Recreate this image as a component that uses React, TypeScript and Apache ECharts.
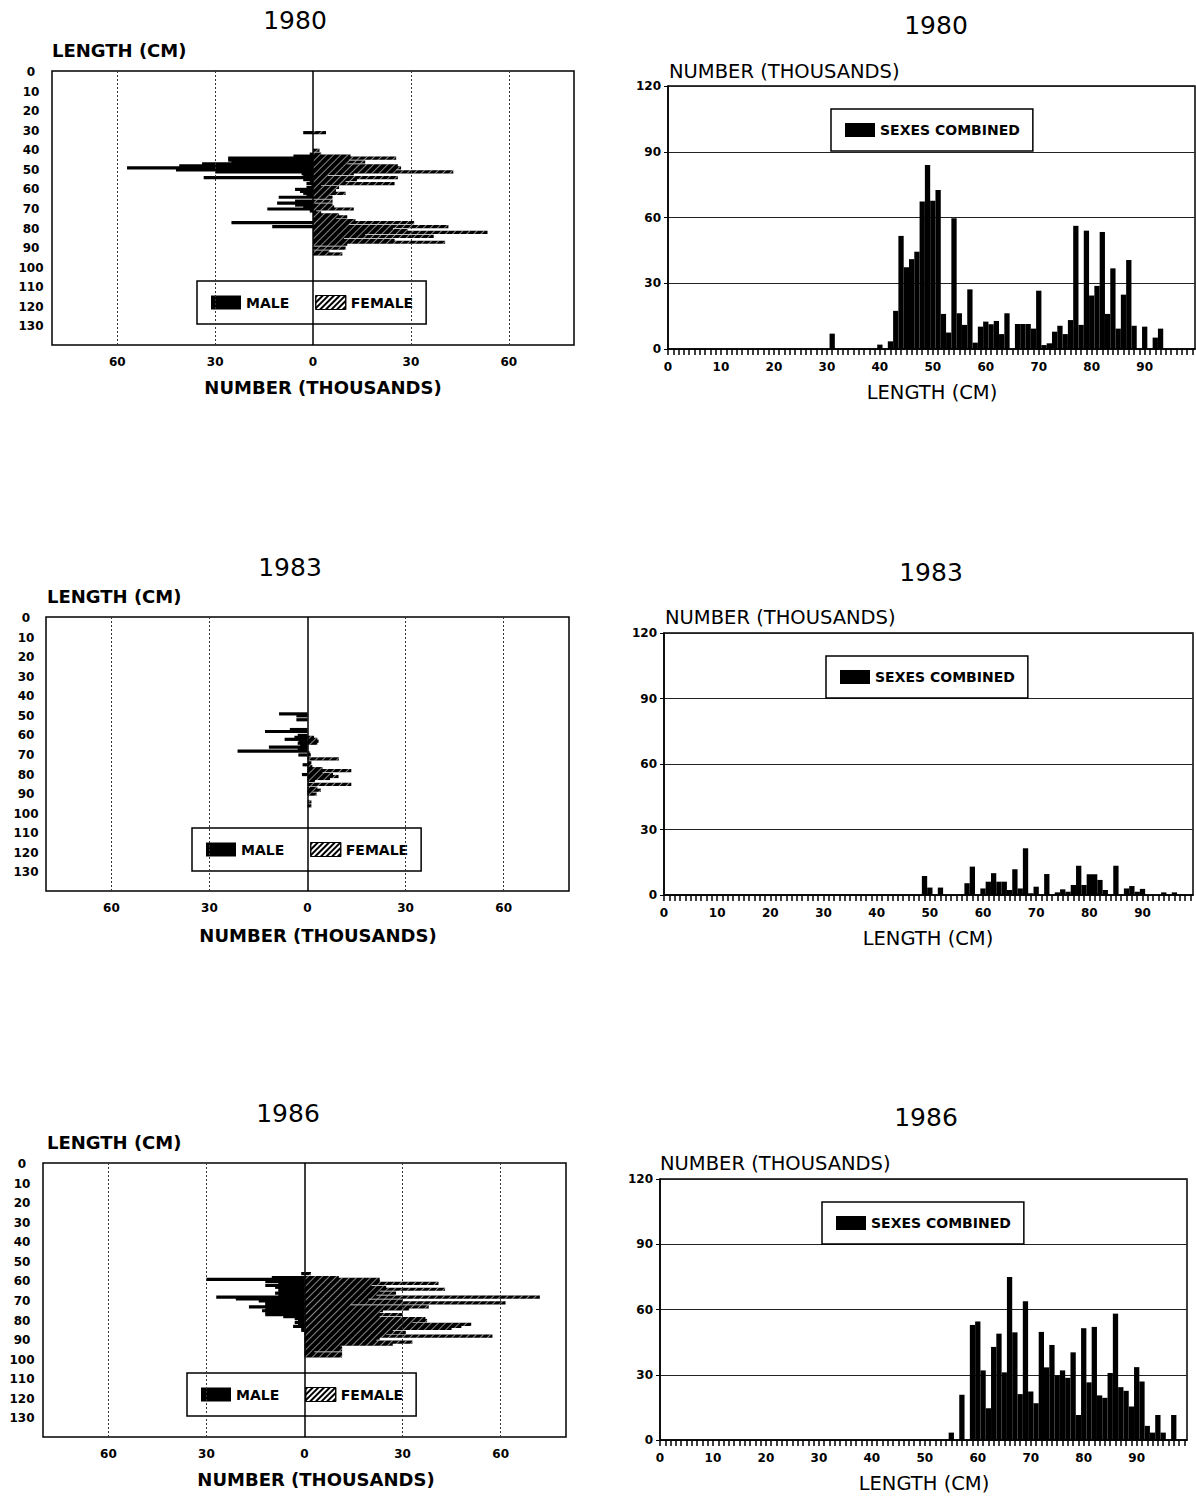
import React, { useEffect, useRef } from "react";
import * as echarts from "echarts";

// ---------- labels ----------
const YEARS = ["1980", "1983", "1986"];
const NUMBER_TICKS = [-60, -30, 0, 30, 60];
const NUMBER_GRIDLINES = [-60, -30, 30, 60];
const LENGTH_SLOTS = 140; // 0..139 cm, labelled 0..130
const HIST_MAX_LENGTH = 99.5;

// ---------- 1980 ----------
const pyr1980Lengths = [31, 40, 42, 43, 44, 45, 46, 47, 48, 49, 50, 51, 52, 53, 54, 55, 56, 57, 58, 59, 60, 61, 62, 63, 64, 66, 67, 68, 69, 70, 71, 72, 73, 74, 75, 76, 77, 78, 79, 80, 81, 82, 83, 84, 85, 86, 87, 88, 90, 92, 93];
const pyr1980Male = [3, 0, 1, 6, 26, 26, 25, 34, 41, 57, 42, 30, 3.5, 3, 33.5, 3, 1, 2, 0.5, 2, 5.5, 4, 3, 2, 10.5, 5.5, 11, 5.5, 3, 14, 1, 0, 0, 0, 0, 0, 25, 0, 12.5, 0, 0, 0, 0, 0, 0, 0, 0, 0, 0, 0, 0];
const pyr1980Female = [4, 2, 2.5, 11.5, 25.5, 11, 16, 10.5, 26, 27, 25.5, 43, 12.5, 4.5, 26, 13.5, 10, 25, 2.5, 8, 7, 7, 10, 5, 6, 6, 0.5, 6, 6.5, 12.5, 1, 2.5, 8, 10.5, 7, 13, 31, 11, 41.5, 24.5, 29, 53.5, 16, 37, 9.5, 25, 40.5, 10.5, 10, 5, 9];
const hist1980Lengths = [31, 40, 42, 43, 44, 45, 46, 47, 48, 49, 50, 51, 52, 53, 54, 55, 56, 57, 58, 59, 60, 61, 62, 63, 64, 66, 67, 68, 69, 70, 71, 72, 73, 74, 75, 76, 77, 78, 79, 80, 81, 82, 83, 84, 85, 86, 87, 88, 90, 92, 93];
const hist1980Values = [7, 2, 3.5, 17.4, 51.6, 37.3, 41, 44.4, 67.3, 84, 67.6, 72.6, 16, 7.5, 59.7, 16.3, 11, 27.2, 2.9, 10.2, 12.5, 11.3, 12.8, 6.8, 16.3, 11.4, 11.4, 11.4, 9.3, 26.6, 1.8, 2.6, 7.9, 10.6, 6.8, 13.2, 56.2, 11, 54, 24.4, 28.8, 53.4, 16, 36.8, 9.3, 24.8, 40.6, 10.6, 10.2, 5.2, 9.3];

// ---------- 1983 ----------
const pyr1983Lengths = [49, 50, 52, 57, 58, 60, 61, 62, 63, 64, 65, 66, 67, 68, 69, 70, 72, 74, 75, 76, 77, 78, 79, 80, 81, 82, 83, 85, 87, 88, 89, 90, 94, 96];
const pyr1983Male = [8.7, 3.4, 3.4, 5.4, 13, 3, 4, 7, 2.7, 3, 2.3, 11.8, 3, 21.4, 0, 2.8, 0, 0, 1.5, 0, 0, 0, 0, 1.7, 0, 0, 0, 0, 0, 0, 0, 0, 0, 0];
const pyr1983Female = [0, 0, 0, 0, 0, 0, 2, 3, 3.4, 3, 0, 0, 0, 0, 0.8, 1, 9.6, 1.2, 1.1, 1.5, 4.6, 13.4, 4.6, 7.8, 9.5, 6.9, 2.3, 13.4, 3, 4.1, 1.5, 2.8, 1.2, 1.2];
const hist1983Lengths = [49, 50, 52, 57, 58, 60, 61, 62, 63, 64, 65, 66, 67, 68, 69, 70, 72, 74, 75, 76, 77, 78, 79, 80, 81, 82, 83, 85, 87, 88, 89, 90, 94, 96];
const hist1983Values = [8.7, 3.4, 3.4, 5.4, 13, 3, 6.1, 10, 6.1, 6.1, 2.3, 11.8, 3, 21.4, 0.8, 3.8, 9.6, 1.2, 2.6, 1.5, 4.6, 13.4, 4.6, 9.5, 9.5, 6.9, 2.3, 13.4, 3, 4.1, 1.5, 2.8, 1.2, 1.2];

// ---------- 1986 ----------
const pyr1986Lengths = [56, 58, 59, 60, 61, 62, 63, 64, 65, 66, 67, 68, 69, 70, 71, 72, 73, 74, 75, 76, 77, 78, 79, 80, 81, 82, 83, 84, 85, 86, 87, 88, 89, 90, 91, 92, 93, 94, 95, 96, 97, 98];
const pyr1986Male = [1, 10, 30, 12, 8, 12, 9, 8, 8, 9, 8, 27, 21, 14, 12, 12, 17, 12, 13, 12, 12, 6.5, 3, 2, 3, 2, 3.5, 1, 1, 0, 0, 0, 0, 0, 0, 0, 0, 0, 0, 0, 0, 0];
const pyr1986Female = [2, 10.5, 23, 23, 41, 20.5, 25, 43, 23, 28, 22, 72, 19.5, 30, 61.5, 14, 38, 32, 24, 23, 30, 23, 37, 37.5, 33, 51, 48, 45, 27, 31, 25, 57.5, 23, 22, 33, 27, 11, 11.5, 11.5, 3, 11.5, 11.5];
const hist1986Lengths = [55, 57, 59, 60, 61, 62, 63, 64, 65, 66, 67, 68, 69, 70, 71, 72, 73, 74, 75, 76, 77, 78, 79, 80, 81, 82, 83, 84, 85, 86, 87, 88, 89, 90, 91, 92, 93, 94, 95, 97];
const hist1986Values = [3.4, 20.8, 52.9, 54.5, 32, 14.6, 42.8, 48.9, 31.1, 74.9, 49.5, 21.1, 63.8, 22.3, 16.9, 49.7, 33.4, 43.7, 29.7, 32, 28.6, 40.3, 11.5, 51.4, 26.5, 52, 20.5, 19.4, 30.8, 58.1, 24.3, 22.6, 15.4, 33.5, 26.9, 6.5, 3.4, 11.5, 3.4, 11.5];

const PYRAMIDS = [
  { lengths: pyr1980Lengths, male: pyr1980Male, female: pyr1980Female },
  { lengths: pyr1983Lengths, male: pyr1983Male, female: pyr1983Female },
  { lengths: pyr1986Lengths, male: pyr1986Male, female: pyr1986Female },
];
const HISTS = [
  { lengths: hist1980Lengths, values: hist1980Values },
  { lengths: hist1983Lengths, values: hist1983Values },
  { lengths: hist1986Lengths, values: hist1986Values },
];

// ---------- layout ----------
const LEFT = [
  { title: [295, 20], yname: [52, 50], grid: { left: 52, top: 71, width: 522, height: 274 }, xname: [323, 387], legend: { left: 197, top: 281 }, labelMargin: 21 },
  { title: [290, 567], yname: [47, 596], grid: { left: 46, top: 617, width: 523, height: 274 }, xname: [318, 935], legend: { left: 192, top: 828 }, labelMargin: 20 },
  { title: [288, 1113], yname: [47, 1142], grid: { left: 43, top: 1163, width: 523, height: 274 }, xname: [316, 1479], legend: { left: 187, top: 1373 }, labelMargin: 21 },
];
const RIGHT = [
  { title: [936, 25], yname: [669, 71], grid: { left: 668, top: 86, width: 527, height: 263 }, xname: [932, 392], legend: { left: 831, top: 109 } },
  { title: [931, 572], yname: [665, 617], grid: { left: 664, top: 633, width: 529, height: 262 }, xname: [928, 938], legend: { left: 826, top: 656 } },
  { title: [926, 1117], yname: [660, 1163], grid: { left: 660, top: 1179, width: 527, height: 261 }, xname: [924, 1483], legend: { left: 822, top: 1202 } },
];

const FONT = "DejaVu Sans";

const FEMALE_DECAL = {
  symbol: "rect",
  symbolSize: 1,
  dashArrayX: [1, 0],
  dashArrayY: [1, 4],
  rotation: -Math.PI / 4,
  color: "rgba(255,255,255,0.55)",
};
const FEMALE_LEGEND_DECAL = {
  symbol: "rect",
  symbolSize: 1,
  dashArrayX: [1, 0],
  dashArrayY: [1.5, 2],
  rotation: -Math.PI / 4,
  color: "#000",
};

function fillSlots(lengths: number[], values: number[], sign: number) {
  const arr: (number | null)[] = new Array(LENGTH_SLOTS).fill(null);
  lengths.forEach((l, i) => {
    if (values[i]) arr[l] = sign * values[i];
  });
  return arr;
}

function text(t: string, x: number, y: number, size: number, weight: string, align = "center") {
  return {
    type: "text",
    x,
    y,
    silent: true,
    style: { text: t, fill: "#000", fontSize: size, fontWeight: weight, fontFamily: FONT, align, verticalAlign: "middle" },
  };
}

function buildOption() {
  const grid: any[] = [];
  const xAxis: any[] = [];
  const yAxis: any[] = [];
  const series: any[] = [];
  const legend: any[] = [];
  const graphic: any[] = [];
  const lengthCats = Array.from({ length: LENGTH_SLOTS }, (_, i) => String(i));

  // pyramids
  LEFT.forEach((L, i) => {
    const P = PYRAMIDS[i];
    grid.push({ ...L.grid, show: true, borderColor: "#000", borderWidth: 1.5, backgroundColor: "transparent", containLabel: false });
    xAxis.push({
      type: "value",
      gridIndex: i,
      min: -80,
      max: 80,
      axisLine: { show: false },
      axisTick: { show: false },
      splitLine: { show: false },
      axisLabel: {
        customValues: NUMBER_TICKS,
        formatter: (v: number) => String(Math.abs(v)),
        margin: 11,
        fontSize: 12,
        fontWeight: "bold",
        fontFamily: FONT,
        color: "#000",
      },
    });
    yAxis.push({
      type: "category",
      gridIndex: i,
      data: lengthCats,
      inverse: true,
      boundaryGap: true,
      axisLine: { show: false },
      axisTick: { show: false },
      splitLine: { show: false },
      axisLabel: {
        interval: (idx: number) => idx % 10 === 0 && idx <= 130,
        align: "center",
        margin: L.labelMargin,
        fontSize: 12,
        fontWeight: "bold",
        fontFamily: FONT,
        color: "#000",
      },
    });
    series.push({
      type: "bar",
      name: "MALE",
      xAxisIndex: i,
      yAxisIndex: i,
      data: fillSlots(P.lengths, P.male, -1),
      barWidth: 3.2,
      barGap: "-100%",
      itemStyle: { color: "#000" },
      silent: true,
    });
    series.push({
      type: "bar",
      name: "FEMALE",
      xAxisIndex: i,
      yAxisIndex: i,
      data: fillSlots(P.lengths, P.female, 1),
      barWidth: 3.2,
      barGap: "-100%",
      itemStyle: { color: "#000", decal: FEMALE_DECAL },
      silent: true,
      markLine: {
        silent: true,
        symbol: "none",
        label: { show: false },
        data: [
          ...NUMBER_GRIDLINES.map((v) => ({ xAxis: v, lineStyle: { type: [2, 2], color: "#333", width: 1 } })),
          { xAxis: 0, lineStyle: { type: "solid", color: "#000", width: 1.5 } },
        ],
      },
    });
    legend.push({
      left: L.legend.left,
      top: L.legend.top,
      orient: "horizontal",
      data: [
        { name: "MALE" },
        { name: "FEMALE", itemStyle: { color: "#fff", borderColor: "#000", borderWidth: 1, decal: FEMALE_LEGEND_DECAL } },
      ],
      icon: "rect",
      itemWidth: 30,
      itemHeight: 14,
      itemGap: 26,
      padding: [14, 13, 14, 14],
      backgroundColor: "#fff",
      borderColor: "#000",
      borderWidth: 1.5,
      selectedMode: false,
      textStyle: { fontFamily: FONT, fontWeight: "bold", fontSize: 14, color: "#000" },
    });
    graphic.push(text(YEARS[i], L.title[0], L.title[1], 25, "normal"));
    graphic.push(text("LENGTH (CM)", L.yname[0], L.yname[1], 18, "bold", "left"));
    graphic.push(text("NUMBER (THOUSANDS)", L.xname[0], L.xname[1], 18, "bold"));
  });

  // histograms
  RIGHT.forEach((R, j) => {
    const H = HISTS[j];
    const gi = 3 + j;
    grid.push({ ...R.grid, show: true, borderColor: "#000", borderWidth: 1.5, backgroundColor: "transparent", containLabel: false });
    xAxis.push({
      type: "value",
      gridIndex: gi,
      min: 0,
      max: HIST_MAX_LENGTH,
      interval: 1,
      axisLine: { show: true, lineStyle: { color: "#000", width: 1.5 } },
      axisTick: { show: true, length: 6, lineStyle: { color: "#000", width: 1.5 } },
      splitLine: { show: false },
      axisLabel: {
        formatter: (v: number) => (v % 10 === 0 ? String(v) : ""),
        margin: 12,
        fontSize: 12,
        fontWeight: "bold",
        fontFamily: FONT,
        color: "#000",
        showMaxLabel: false,
      },
    });
    yAxis.push({
      type: "value",
      gridIndex: gi,
      min: 0,
      max: 120,
      interval: 30,
      axisLine: { show: true, lineStyle: { color: "#000", width: 1.5 } },
      axisTick: { show: true, length: 4, lineStyle: { color: "#000" } },
      splitLine: { show: true, lineStyle: { color: "#222", width: 1 } },
      axisLabel: { margin: 7, fontSize: 12, fontWeight: "bold", fontFamily: FONT, color: "#000" },
    });
    series.push({
      type: "bar",
      name: "SEXES COMBINED",
      xAxisIndex: gi,
      yAxisIndex: gi,
      data: H.lengths.map((l, k) => [l, H.values[k]]),
      barWidth: R.grid.width / HIST_MAX_LENGTH,
      itemStyle: { color: "#000" },
      silent: true,
    });
    legend.push({
      left: R.legend.left,
      top: R.legend.top,
      data: ["SEXES COMBINED"],
      icon: "rect",
      itemWidth: 30,
      itemHeight: 14,
      padding: [14, 13, 14, 14],
      backgroundColor: "#fff",
      borderColor: "#000",
      borderWidth: 1.5,
      selectedMode: false,
      textStyle: { fontFamily: FONT, fontWeight: "bold", fontSize: 14, color: "#000" },
    });
    graphic.push(text(YEARS[j], R.title[0], R.title[1], 25, "normal"));
    graphic.push(text("NUMBER (THOUSANDS)", R.yname[0], R.yname[1], 19.5, "normal", "left"));
    graphic.push(text("LENGTH (CM)", R.xname[0], R.xname[1], 19.5, "normal"));
  });

  return {
    animation: false,
    backgroundColor: "#fff",
    textStyle: { fontFamily: FONT },
    grid,
    xAxis,
    yAxis,
    series,
    legend,
    graphic,
  };
}

export default function App() {
  const ref = useRef<HTMLDivElement>(null);
  useEffect(() => {
    if (!ref.current) return;
    const chart = echarts.init(ref.current, undefined, { renderer: "svg" });
    chart.setOption(buildOption() as any);
    return () => chart.dispose();
  }, []);
  return (
    <div
      ref={ref}
      style={{ position: "absolute", left: 0, top: 0, width: 1196, height: 1496, background: "#fff" }}
    />
  );
}
